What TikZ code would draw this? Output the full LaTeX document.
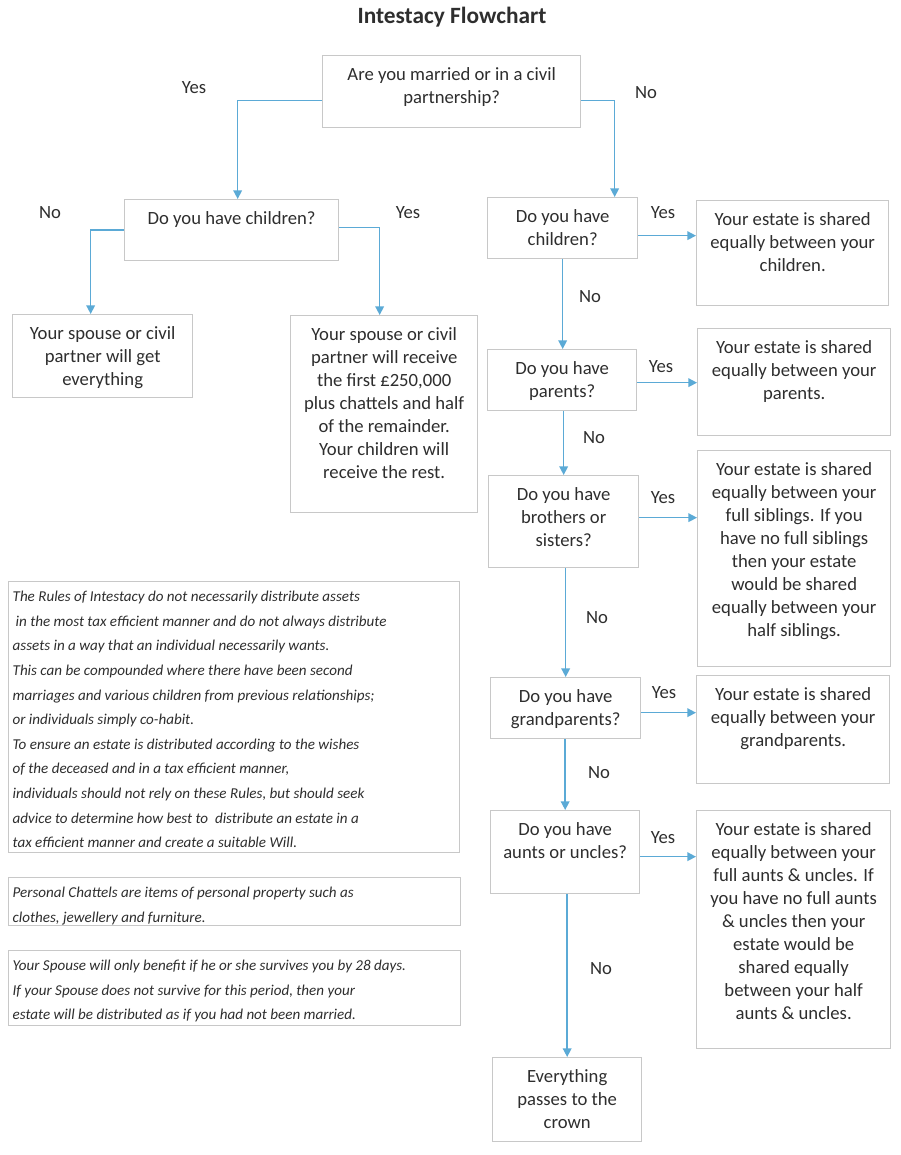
\documentclass[tikz,border=0pt]{standalone}
\usepackage{fontspec}
\setmainfont{Carlito}
\usetikzlibrary{arrows.meta}
\newdimen\pxu \pxu=0.75pt
\definecolor{arrowblue}{HTML}{5BAAD6}
\definecolor{boxgray}{HTML}{C8C8C8}
\definecolor{ink}{HTML}{2E2E2E}
\newcommand\bxt[3]{\parbox[c][#2\pxu][t]{#1\pxu}{\centering\fontsize{14}{17.25}\selectfont\rule{0pt}{24.5\pxu}#3\par}}
\newcommand\ntt[3]{\parbox[c][#2\pxu][t]{#1\pxu}{\raggedright\leftskip=4\pxu\fontsize{11.3}{18.45}\selectfont\itshape\rule{0pt}{20\pxu}#3\par}}
\begin{document}
\begin{tikzpicture}[x=0.75pt,y=-0.75pt,
  box/.style={draw=boxgray, line width=1pt, inner sep=0pt, anchor=north west, text=ink},
  arr/.style={draw=arrowblue, line width=1.1pt, -{Triangle[length=6.5pt,width=6.5pt]}},
  lbl/.style={anchor=base, inner sep=0pt, text=ink, font=\fontsize{14}{17}\selectfont},
  ttl/.style={anchor=base, inner sep=0pt, text=ink, font=\fontsize{17.5}{21}\selectfont\bfseries}]
\fill[white] (0,0) rectangle (900,1155);
\useasboundingbox (0,0) rectangle (900,1155);

\node[ttl] (title) at (452,23.5) {Intestacy Flowchart};

% left branch
\node[box] (Q1) at (322,55) {\bxt{258}{72}{Are you married or in a civil\\partnership?}};
\node[box] (Q2L) at (124,199) {\bxt{214}{61}{Do you have children?}};
\node[box] (L1) at (12,314) {\bxt{180}{83}{Your spouse or civil\\partner will get\\everything}};
\node[box] (L2) at (290,315) {\bxt{187}{197}{Your spouse or civil\\partner will receive\\the first £250,000\\plus chattels and half\\of the remainder.\\Your children will\\receive the rest.}};

% right column questions
\node[box] (Qc) at (487,197) {\bxt{150}{61}{Do you have\\children?}};
\node[box] (Qp) at (487,349) {\bxt{149}{61}{Do you have\\parents?}};
\node[box] (Qs) at (488,475) {\bxt{150}{92}{Do you have\\brothers or\\sisters?}};
\node[box] (Qg) at (490,677) {\bxt{150}{61}{Do you have\\grandparents?}};
\node[box] (Qa) at (490,810) {\bxt{149}{83}{Do you have\\aunts or uncles?}};
\node[box] (Qe) at (492,1057) {\bxt{149}{84}{Everything\\passes to the\\crown}};

% right column results
\node[box] (Rc) at (696,200) {\bxt{192}{105}{Your estate is shared\\equally between your\\children.}};
\node[box] (Rp) at (697,328) {\bxt{193}{107}{Your estate is shared\\equally between your\\parents.}};
\node[box] (Rs) at (697,450) {\bxt{193}{216}{Your estate is shared\\equally between your\\full siblings. If you\\have no full siblings\\then your estate\\would be shared\\equally between your\\half siblings.}};
\node[box] (Rg) at (696,675) {\bxt{193}{108}{Your estate is shared\\equally between your\\grandparents.}};
\node[box] (Ra) at (696,810) {\bxt{194}{238}{Your estate is shared\\equally between your\\full aunts \& uncles. If\\you have no full aunts\\\& uncles then your\\estate would be\\shared equally\\between your half\\aunts \& uncles.}};

% notes
\node[box] (N1) at (8,581) {\ntt{451}{271}{The Rules of Intestacy do not necessarily distribute assets\\
\hspace*{3\pxu}in the most tax efficient manner and do not always distribute\\
assets in a way that an individual necessarily wants.\\
This can be compounded where there have been second\\
marriages and various children from previous relationships;\\
or individuals simply co-habit.\\
To ensure an estate is distributed according to the wishes\\
of the deceased and in a tax efficient manner,\\
individuals should not rely on these Rules, but should seek\\
advice to determine how best to\ \ distribute an estate in a\\
tax efficient manner and create a suitable Will.}};
\node[box] (N2) at (8,877) {\ntt{452}{48}{Personal Chattels are items of personal property such as\\
clothes, jewellery and furniture.}};
\node[box] (N3) at (8,950) {\ntt{452}{75}{Your Spouse will only benefit if he or she survives you by 28 days.\\
If your Spouse does not survive for this period, then your\\
estate will be distributed as if you had not been married.}};

% connectors
\draw[arr] ([yshift=-9\pxu]Q1.west) -| ([xshift=6\pxu]Q2L.north);
\draw[arr] ([yshift=-9\pxu]Q1.east) -| ([xshift=52\pxu]Qc.north);
\draw[arr] (Q2L.west) -| ([xshift=-12\pxu]L1.north);
\draw[arr] ([yshift=2.5\pxu]Q2L.east) -| ([xshift=-4.5\pxu]L2.north);

\draw[arr] ([yshift=-7.5\pxu]Qc.east) -- ([yshift=-7.5\pxu]Qc.east -| Rc.west);
\draw[arr] ([yshift=-2.5\pxu]Qp.east) -- ([yshift=-2.5\pxu]Qp.east -| Rp.west);
\draw[arr] ([yshift=4\pxu]Qs.east) -- ([yshift=4\pxu]Qs.east -| Rs.west);
\draw[arr] ([yshift=-4.5\pxu]Qg.east) -- ([yshift=-4.5\pxu]Qg.east -| Rg.west);
\draw[arr] ([yshift=-4.5\pxu]Qa.east) -- ([yshift=-4.5\pxu]Qa.east -| Ra.west);

\draw[arr] (Qc.south) -- (Qc.south |- Qp.north);
\draw[arr] (Qs.north |- Qp.south) -- (Qs.north);
\draw[arr] (Qg.north |- Qs.south) -- (Qg.north);
\draw[arr] (Qa.north |- Qg.south) -- (Qa.north);
\draw[arr] (Qe.north |- Qa.south) -- (Qe.north);

% labels
\node[lbl] (y1) at (194,94) {Yes};
\node[lbl] (n1) at (646,99) {No};
\node[lbl] (n2) at (50,219) {No};
\node[lbl] (y2) at (408,219) {Yes};
\node[lbl] (y3) at (663,219) {Yes};
\node[lbl] (n3) at (590,303) {No};
\node[lbl] (y4) at (661,372) {Yes};
\node[lbl] (n4) at (594,443) {No};
\node[lbl] (y5) at (663,503) {Yes};
\node[lbl] (n5) at (597,623) {No};
\node[lbl] (y6) at (664,698) {Yes};
\node[lbl] (n6) at (599,778) {No};
\node[lbl] (y7) at (663,843) {Yes};
\node[lbl] (n7) at (601,974) {No};
\end{tikzpicture}
\end{document}
